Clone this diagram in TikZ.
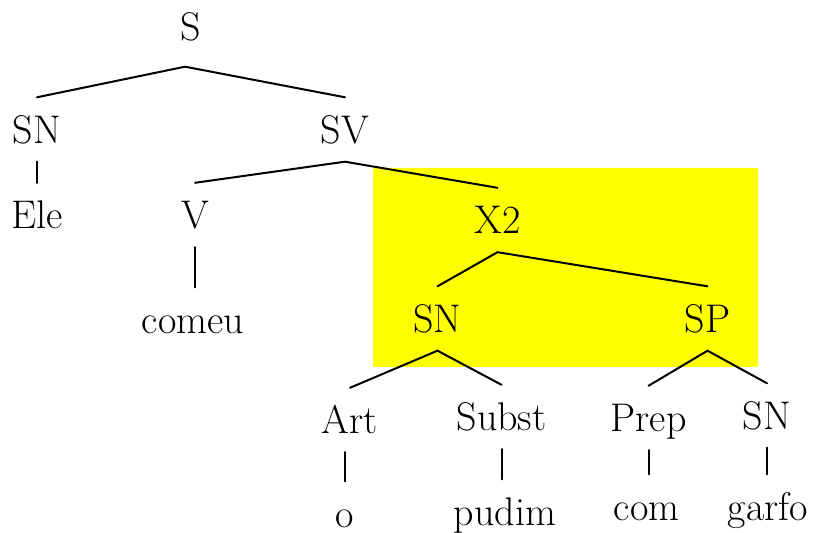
\documentclass[tikz,border=0pt]{standalone}
\usepackage{fontspec}
\definecolor{hilite}{RGB}{255,255,0}

\begin{document}
\begin{tikzpicture}
[x=.5pt,y=-.5pt,
line width=1pt,
every node/.style={
  font=\fontsize{20}{24}\selectfont, text height=13.6pt, text depth=0pt,
  inner xsep=2pt, inner ysep=8.8pt
},
branch/.style={
  line cap=round
},
highlight/.style={
  fill=hilite, rounded corners=1pt
}
]
\useasboundingbox (0,0) rectangle (813,533);

% highlighted X2
\fill[highlight] (373,168) rectangle (758,367);

% top levels
\node (s) at (191,26.5) {S};
\node (sn) at (37,129.5) {SN};
\node (sv) at (345,129.5) {SV};
\node (ele) at (37.5,215) {Ele};
\node (v) at (195,215) {V};
\node (comeu) at (193,319.5) {comeu};

% X2
\node (x2) at (497.5,220) {X2};
\node (sn obj) at (437.5,318.5) {SN};
\node (sp) at (707.5,318.5) {SP};

% terminals
\node (art) at (350,420) {Art};
\node (subst) at (501.5,417) {Subst};
\node (prep) at (648.5,418) {Prep};
\node (sn garfo) at (767,415.5) {SN};
\node (o) at (344.5,513.5) {o};
\node (pudim) at (505,511.5) {pudim};
\node (com) at (646.5,506.5) {com};
\node (garfo) at (768,506.5) {garfo};

% branches
\draw[branch] (sn.north) -- ([yshift=-4pt,xshift=-3pt]s.south) -- (sv.north);
\draw[branch] (sn.south) -- (sn.south |- ele.north);
\draw[branch] (v.north) -- (sv.south) -- (x2.north);
\draw[branch] (v.south) -- (v.south |- comeu.north);
\draw[branch] (sn obj.north) -- (x2.south) -- (sp.north);
\draw[branch] (art.north) -- (sn obj.south) -- (subst.north);
\draw[branch] (prep.north) -- (sp.south) -- (sn garfo.north);
\draw[branch] (art.south -| o.north) -- (o.north);
\draw[branch] (subst.south) -- (subst.south |- pudim.north);
\draw[branch] (prep.south) -- (prep.south |- com.north);
\draw[branch] (sn garfo.south) -- (sn garfo.south |- garfo.north);

\end{tikzpicture}
\end{document}
